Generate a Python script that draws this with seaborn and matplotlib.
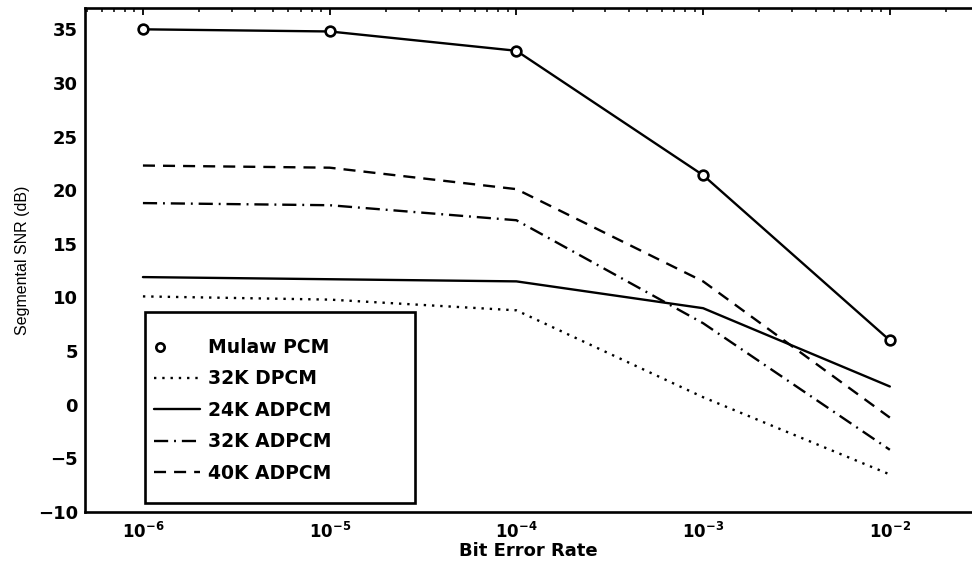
import matplotlib
matplotlib.use("Agg")
import matplotlib.pyplot as plt
import numpy as np
import pandas as pd
import seaborn as sns
from matplotlib.legend_handler import HandlerLine2D
from matplotlib.lines import Line2D
from matplotlib.patches import Rectangle
from matplotlib.ticker import LogLocator, LogFormatterMathtext, NullFormatter

# bit error rates where every curve was measured
ber = [1e-6, 1e-5, 1e-4, 1e-3, 1e-2]

# segmental SNR (dB) per coder
mulaw_pcm = [35.0, 34.8, 33.0, 21.4, 6.0]
dpcm_32k = [10.1, 9.8, 8.8, 0.7, -6.5]
adpcm_24k = [11.9, 11.7, 11.5, 9.0, 1.7]
adpcm_32k = [18.8, 18.6, 17.2, 7.6, -4.2]
adpcm_40k = [22.3, 22.1, 20.1, 11.5, -1.2]

series_names = ["32K DPCM", "24K ADPCM", "32K ADPCM", "40K ADPCM"]
series_vals = [dpcm_32k, adpcm_24k, adpcm_32k, adpcm_40k]
series_dash = [(0, (1, 2.5)), "-", (0, (6, 2.5, 0.8, 2.5)), (0, (5.1, 3.4))]


class LeftMarker(HandlerLine2D):
    # single marker near the left end of the legend handle
    def get_xdata(self, legend, xdescent, ydescent, width, height, fontsize):
        x = -xdescent + 0.35 * fontsize
        return np.array([x, x]), np.array([x])


sns.set_style("white")
plt.rcParams["font.family"] = ["DejaVu Sans"]
plt.rcParams["font.weight"] = "bold"
plt.rcParams["mathtext.fontset"] = "dejavusans"
plt.rcParams["mathtext.default"] = "bf"
for key in ["text.color", "axes.labelcolor", "xtick.color", "ytick.color"]:
    plt.rcParams[key] = "black"

fig = plt.figure(figsize=(9.72, 5.62), dpi=100)
ax = fig.add_axes([0.0875, 0.089, 0.9125, 0.897])

df = pd.DataFrame({"ber": ber, "snr": mulaw_pcm})
sns.lineplot(data=df, x="ber", y="snr", ax=ax, color="black", lw=1.7,
             marker="o", markersize=7, markerfacecolor="white",
             markeredgecolor="black", markeredgewidth=1.9)

for name, vals, ls in zip(series_names, series_vals, series_dash):
    d = pd.DataFrame({"ber": ber, "snr": vals})
    sns.lineplot(data=d, x="ber", y="snr", ax=ax, color="black",
                 lw=1.7, linestyle=ls)

ax.set_xscale("log")
ax.set_xlim(10 ** -6.31, 10 ** -1.56)
ax.set_ylim(-10, 37)
ax.set_yticks(np.arange(-10, 36, 5))
ax.xaxis.set_major_locator(LogLocator(base=10, numticks=10))
ax.xaxis.set_major_formatter(LogFormatterMathtext())
ax.xaxis.set_minor_locator(LogLocator(base=10, subs=np.arange(2, 10), numticks=20))
ax.xaxis.set_minor_formatter(NullFormatter())

ax.tick_params(axis="y", which="major", direction="in", length=8, width=1.4,
               labelsize=13, right=False, pad=5)
ax.tick_params(axis="x", which="major", direction="in", length=5, width=1.3,
               labelsize=12, top=True, pad=7)
ax.tick_params(axis="x", which="minor", direction="in", length=2.8, width=1.1,
               top=True)

for sp in ax.spines.values():
    sp.set_color("black")
    sp.set_linewidth(1.9)
ax.spines["right"].set_visible(False)

ax.set_xlabel("Bit Error Rate", fontsize=13, fontweight="bold", labelpad=0)
ax.set_ylabel("Segmental SNR (dB)", fontsize=11.5, fontweight="normal",
              family=["Liberation Sans"], labelpad=6)

# legend box drawn as a plain frame, entries placed inside it
ax.add_patch(Rectangle((0.0676, 0.018), 0.304, 0.379, transform=ax.transAxes,
                       facecolor="white", edgecolor="black", lw=1.9, zorder=4))
handles = [Line2D([], [], color="black", marker="o", linestyle="none",
                  markersize=6, markerfacecolor="white", markeredgewidth=1.9)]
for ls in series_dash:
    handles.append(Line2D([], [], color="black", lw=1.7, linestyle=ls))
leg = ax.legend(handles, ["Mulaw PCM"] + series_names, loc="upper left",
                bbox_to_anchor=(0.0775, 0.345), frameon=False,
                handler_map={handles[0]: LeftMarker()},
                handlelength=2.45, handletextpad=0.45, labelspacing=0.66,
                borderpad=0, borderaxespad=0,
                prop={"weight": "bold", "size": 13.5, "family": "DejaVu Sans"})
leg.set_zorder(5)

fig.savefig("out.png", dpi=100)
